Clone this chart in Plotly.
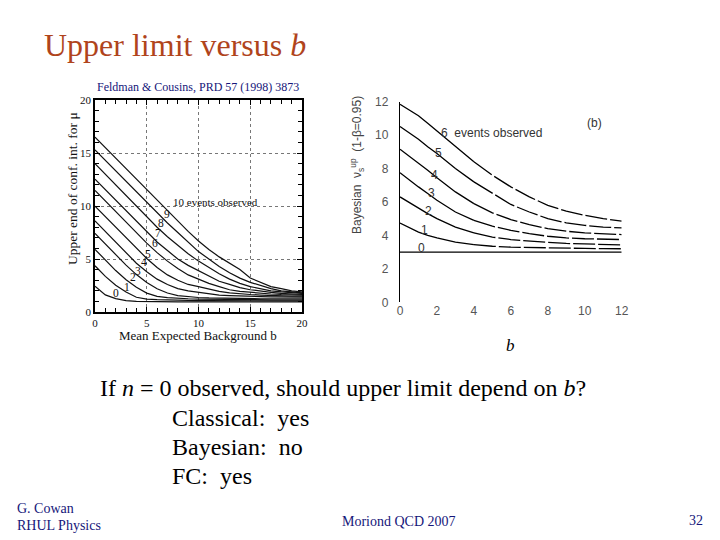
import plotly.graph_objects as go

# ---------------- Left panel: Feldman & Cousins upper limits (90% CL) ----------------
fc_b = list(range(21))
fc_n0 = [2.44, 1.61, 1.26, 1.08, 1.01, 0.98, 0.97, 0.96, 0.95, 0.95, 0.95, 0.95, 0.95, 0.95, 0.95, 0.95, 0.95, 0.95, 0.95, 0.95, 0.95]
fc_n1 = [4.36, 3.36, 2.53, 1.88, 1.39, 1.22, 1.17, 1.13, 1.11, 1.10, 1.08, 1.07, 1.06, 1.06, 1.05, 1.05, 1.05, 1.05, 1.05, 1.05, 1.05]
fc_n2 = [5.91, 4.91, 3.91, 3.04, 2.33, 1.78, 1.48, 1.36, 1.29, 1.25, 1.22, 1.20, 1.19, 1.18, 1.17, 1.16, 1.16, 1.15, 1.15, 1.15, 1.15]
fc_n3 = [7.42, 6.42, 5.42, 4.42, 3.53, 2.78, 2.20, 1.79, 1.55, 1.43, 1.37, 1.33, 1.30, 1.28, 1.27, 1.26, 1.25, 1.25, 1.25, 1.25, 1.25]
fc_n4 = [8.60, 7.60, 6.60, 5.60, 4.60, 3.80, 3.10, 2.60, 2.20, 2.00, 1.85, 1.70, 1.60, 1.55, 1.50, 1.48, 1.45, 1.43, 1.40, 1.40, 1.40]
fc_n5 = [9.99, 8.99, 7.99, 6.99, 5.99, 5.05, 4.20, 3.50, 3.00, 2.60, 2.40, 2.15, 1.95, 1.80, 1.70, 1.65, 1.60, 1.55, 1.52, 1.50, 1.50]
fc_n6 = [11.47, 10.47, 9.47, 8.47, 7.47, 6.50, 5.60, 4.80, 4.10, 3.50, 3.10, 2.70, 2.40, 2.10, 1.95, 1.85, 1.75, 1.70, 1.65, 1.60, 1.60]
fc_n7 = [12.53, 11.53, 10.53, 9.53, 8.53, 7.55, 6.60, 5.80, 5.00, 4.40, 3.90, 3.40, 2.90, 2.60, 2.30, 2.10, 1.95, 1.85, 1.75, 1.70, 1.65]
fc_n8 = [13.99, 12.99, 11.99, 10.99, 9.99, 9.00, 8.00, 7.10, 6.30, 5.50, 4.80, 4.20, 3.60, 3.10, 2.70, 2.40, 2.20, 2.00, 1.90, 1.80, 1.75]
fc_n9 = [15.30, 14.30, 13.30, 12.30, 11.30, 10.30, 9.30, 8.40, 7.50, 6.60, 5.70, 5.00, 4.30, 3.70, 3.20, 2.80, 2.50, 2.20, 2.00, 1.90, 1.80]
fc_n10 = [16.50, 15.50, 14.50, 13.50, 12.50, 11.50, 10.50, 9.50, 8.60, 7.60, 6.70, 5.90, 5.20, 4.60, 4.00, 3.20, 2.80, 2.40, 2.20, 2.00, 1.90]
fc_curves = [fc_n0, fc_n1, fc_n2, fc_n3, fc_n4, fc_n5, fc_n6, fc_n7, fc_n8, fc_n9, fc_n10]
fc_ticks = [0, 5, 10, 15, 20]

# ---------------- Right panel: Bayesian upper limits (95%) ----------------
bay_b = [0, 0.5, 1, 1.5, 2, 3, 4, 5, 6, 7, 8, 9, 10, 11, 12]
bay_n0 = [3.0] * 15
bay_n1 = [4.74, 4.45, 4.20, 4.00, 3.85, 3.60, 3.45, 3.35, 3.30, 3.27, 3.25, 3.23, 3.22, 3.21, 3.20]
bay_n2 = [6.30, 5.95, 5.60, 5.30, 5.00, 4.50, 4.15, 3.90, 3.75, 3.65, 3.58, 3.52, 3.48, 3.45, 3.43]
bay_n3 = [7.75, 7.30, 6.90, 6.50, 6.10, 5.40, 4.90, 4.55, 4.30, 4.10, 3.95, 3.85, 3.80, 3.77, 3.75]
bay_n4 = [9.15, 8.75, 8.35, 7.90, 7.45, 6.60, 5.90, 5.35, 4.95, 4.65, 4.40, 4.25, 4.15, 4.10, 4.05]
bay_n5 = [10.51, 10.15, 9.75, 9.30, 8.90, 8.00, 7.20, 6.50, 5.85, 5.40, 5.00, 4.75, 4.60, 4.50, 4.45]
bay_n6 = [11.84, 11.50, 11.15, 10.70, 10.25, 9.35, 8.40, 7.60, 6.90, 6.30, 5.80, 5.45, 5.20, 5.00, 4.85]
bay_curves = [bay_n0, bay_n1, bay_n2, bay_n3, bay_n4, bay_n5, bay_n6]
bay_labels = ["0", "1", "2", "3", "4", "5"]
bay_ticks = [0, 2, 4, 6, 8, 10, 12]

SERIF = "Liberation Serif"
SANS = "Liberation Sans"
NAVY = "#16167a"

W, H = 720, 540
def px(x):
    return x / W
def py(y):
    return 1 - y / H

fig = go.Figure()

for vals in fc_curves:
    fig.add_trace(go.Scatter(x=fc_b, y=vals, mode="lines", xaxis="x", yaxis="y",
                             line=dict(color="#111111", width=1.2),
                             showlegend=False, hoverinfo="skip"))

split = bay_b.index(4)
for i, vals in enumerate(bay_curves):
    if i == 0:
        fig.add_trace(go.Scatter(x=bay_b, y=vals, mode="lines", xaxis="x2", yaxis="y2",
                                 line=dict(color="black", width=1.3),
                                 showlegend=False, hoverinfo="skip"))
        continue
    fig.add_trace(go.Scatter(x=bay_b[:split + 1], y=vals[:split + 1], mode="lines",
                             xaxis="x2", yaxis="y2", line=dict(color="black", width=1.3),
                             showlegend=False, hoverinfo="skip"))
    fig.add_trace(go.Scatter(x=bay_b[split:], y=vals[split:], mode="lines",
                             xaxis="x2", yaxis="y2",
                             line=dict(color="black", width=1.3, dash="22px,3px"),
                             showlegend=False, hoverinfo="skip"))

ann = []
ann.append(dict(text="Upper limit versus <i>b</i>", x=px(42), y=py(45), xref="paper", yref="paper",
                xanchor="left", yanchor="middle", showarrow=False,
                font=dict(family=SERIF, size=32, color="#b0441c")))
ann.append(dict(text="Feldman &amp; Cousins, PRD 57 (1998) 3873", x=px(198), y=py(87),
                xref="paper", yref="paper", xanchor="center", yanchor="middle", showarrow=False,
                font=dict(family=SERIF, size=12, color=NAVY)))
ann.append(dict(text="Upper end of conf. int. for μ", x=px(72), y=py(189), xref="paper", yref="paper",
                textangle=-90, xanchor="center", yanchor="middle", showarrow=False,
                font=dict(family=SERIF, size=13.5, color="#111")))
ann.append(dict(text="Mean Expected Background b", x=px(198), y=py(335), xref="paper", yref="paper",
                xanchor="center", yanchor="middle", showarrow=False,
                font=dict(family=SERIF, size=13, color="#111")))
fc_label_pos = [(2.0, 1.8), (3.1, 2.4), (3.7, 3.3), (4.15, 3.85), (4.75, 4.7), (5.15, 5.5),
                (5.75, 6.5), (6.05, 7.45), (6.4, 8.4), (6.95, 9.25)]
for n, (bx, vy) in enumerate(fc_label_pos):
    ann.append(dict(text=str(n), x=bx, y=vy, xref="x", yref="y", showarrow=False,
                    xanchor="center", yanchor="middle", font=dict(family=SERIF, size=11.5, color="#111")))
ann.append(dict(text="10 events observed", x=7.3, y=10.4, xref="x", yref="y", showarrow=False,
                xanchor="left", yanchor="middle", font=dict(family=SERIF, size=11, color="#111")))
ann.append(dict(text="Bayesian  ν<sub>s</sub><sup>up</sup>  (1-β=0.95)", x=px(357), y=py(165),
                xref="paper", yref="paper", textangle=-90, xanchor="center", yanchor="middle",
                showarrow=False, font=dict(family=SANS, size=12, color="#444")))
ann.append(dict(text="6  events observed", x=2.1, y=10.15, xref="x2", yref="y2", showarrow=False,
                xanchor="left", yanchor="middle", font=dict(family=SANS, size=12, color="#333")))
ann.append(dict(text="(b)", x=10.55, y=10.7, xref="x2", yref="y2", showarrow=False,
                xanchor="center", yanchor="middle", font=dict(family=SANS, size=12, color="#333")))
bay_label_pos = [(1.15, 3.25), (1.33, 4.35), (1.52, 5.45), (1.7, 6.54), (1.88, 7.64), (2.1, 8.94)]
for lab, (bx, vy) in zip(bay_labels, bay_label_pos):
    ann.append(dict(text=lab, x=bx, y=vy, xref="x2", yref="y2", showarrow=False,
                    xanchor="center", yanchor="middle", font=dict(family=SANS, size=12, color="#333")))
ann.append(dict(text="<i>b</i>", x=px(510), y=py(345), xref="paper", yref="paper", showarrow=False,
                xanchor="center", yanchor="middle", font=dict(family=SERIF, size=17, color="black")))
body = [("If <i>n</i> = 0 observed, should upper limit depend on <i>b</i>?", 98, 388),
        ("Classical:  yes", 170, 418),
        ("Bayesian:  no", 170, 447),
        ("FC:  yes", 170, 476)]
for t, x, y in body:
    ann.append(dict(text=t, x=px(x), y=py(y), xref="paper", yref="paper", showarrow=False,
                    xanchor="left", yanchor="middle", font=dict(family=SERIF, size=24, color="black")))
footer = [("G. Cowan", 15, 509, "left"), ("RHUL Physics", 15, 525, "left"),
          ("Moriond QCD 2007", 340, 521, "left"), ("32", 705, 520, "right")]
for t, x, y, a in footer:
    ann.append(dict(text=t, x=px(x), y=py(y), xref="paper", yref="paper", showarrow=False,
                    xanchor=a, yanchor="middle", font=dict(family=SERIF, size=14, color=NAVY)))

common_left = dict(range=[0, 20], showline=True, linecolor="black", linewidth=1.5, mirror="ticks",
                   ticks="inside", ticklen=5, tickcolor="black", tickvals=fc_ticks,
                   minor=dict(dtick=1, ticks="inside", ticklen=4, tickcolor="black", showgrid=False),
                   showgrid=True, gridcolor="#777", griddash="dot", gridwidth=1, zeroline=False,
                   automargin=False,
                   tickfont=dict(family=SERIF, size=11, color="#111"), fixedrange=True)

fig.update_layout(
    width=W, height=H, autosize=False,
    margin=dict(l=0, r=0, t=0, b=0, pad=0, autoexpand=False),
    paper_bgcolor="white", plot_bgcolor="white",
    showlegend=False,
    xaxis=dict(domain=[px(95), px(302)], anchor="y", **common_left),
    yaxis=dict(domain=[py(312), py(100)], anchor="x", **common_left),
    xaxis2=dict(domain=[px(400), px(621.7)], anchor="y2", range=[0, 12], showline=False,
                ticks="", tickvals=bay_ticks, showgrid=False, zeroline=False, automargin=False,
                tickfont=dict(family=SANS, size=12, color="#555")),
    yaxis2=dict(domain=[py(302.3), py(101.6)], anchor="x2", range=[0, 12], showline=True,
                linecolor="black", linewidth=1.3, ticks="", tickvals=bay_ticks, showgrid=False,
                zeroline=False, ticklabelstandoff=8, automargin=False,
                tickfont=dict(family=SANS, size=12, color="#555")),
    xaxis3=dict(overlaying="x2", anchor="y2", side="top", range=[0, 12], tickvals=[4, 6, 8, 10],
                ticks="inside", ticklen=5, tickcolor="#333", showticklabels=False, automargin=False,
                showline=False, showgrid=False, zeroline=False),
    xaxis4=dict(overlaying="x2", anchor="y2", side="bottom", range=[0, 12], tickvals=[4, 6, 8, 10],
                ticks="inside", ticklen=12, tickcolor="#333", showticklabels=False, automargin=False,
                showline=False, showgrid=False, zeroline=False),
    yaxis3=dict(overlaying="y2", anchor="x2", side="right", range=[0, 12], tickvals=[2, 4, 6, 8, 10],
                ticks="inside", ticklen=5, tickcolor="#333", showticklabels=False, automargin=False,
                showline=False, showgrid=False, zeroline=False),
    annotations=ann,
)

fig.write_html("out.html", config={"displayModeBar": False},
               post_script="document.body.style.margin='0px';")
